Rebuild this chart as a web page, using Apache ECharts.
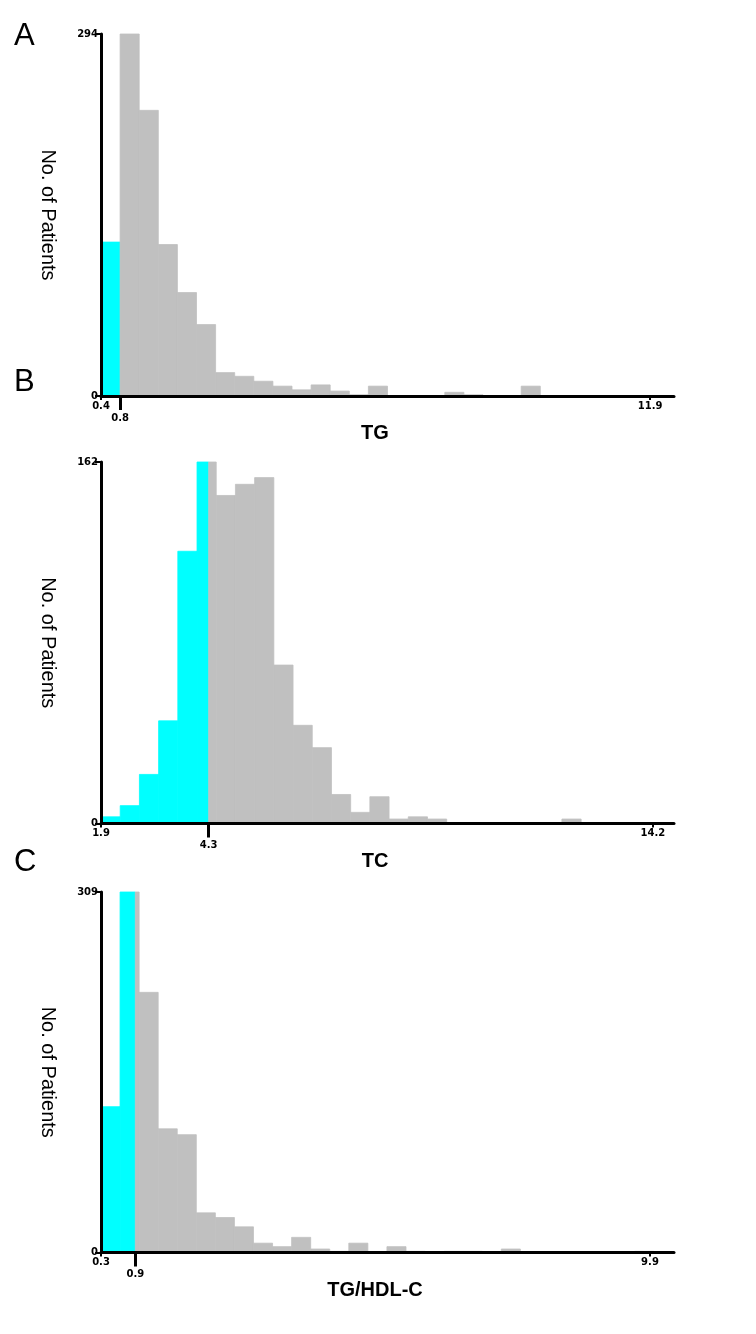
<!DOCTYPE html>
<html>
<head>
<meta charset="utf-8">
<script src="https://cdn.jsdelivr.net/npm/echarts@6/dist/echarts.min.js"></script>
<style>
html,body{margin:0;padding:0;background:#fff;}
#chart{width:756px;height:1334px;}
</style>
</head>
<body>
<div id="chart"></div>
<script>
// ---- Panel A: TG ----
const tgCounts = [125, 294, 232, 123, 84, 58, 19, 16, 12, 8, 5, 9, 4, 1, 8, 0, 0, 0, 3, 1, 0, 0, 8];
const tgBinStart = 0.4;
const tgBinWidth = 0.4;
const tgCutoff = 0.8;
const tgTickLabels = [0.4, 0.8, 11.9];
const tgYMax = 294;

// ---- Panel B: TC ----
const tcCounts = [3, 8, 22, 46, 122, 162, 147, 152, 155, 71, 44, 34, 13, 5, 12, 2, 3, 2, 0, 0, 0, 0, 0, 0, 2];
const tcBinStart = 1.9;
const tcBinWidth = 0.428;
const tcCutoff = 4.3;
const tcTickLabels = [1.9, 4.3, 14.2];
const tcYMax = 162;

// ---- Panel C: TG/HDL-C ----
const ratioCounts = [125, 309, 223, 106, 101, 34, 30, 22, 8, 5, 13, 3, 1, 8, 0, 5, 1, 0, 1, 1, 0, 3, 0, 0, 0, 0, 0, 0, 1];
const ratioBinStart = 0.3;
const ratioBinWidth = 1 / 3;
const ratioCutoff = 0.9;
const ratioTickLabels = [0.3, 0.9, 9.9];
const ratioYMax = 309;

const panels = [
  { counts: tgCounts, start: tgBinStart, width: tgBinWidth, cut: tgCutoff, ticks: tgTickLabels, ymax: tgYMax,
    name: 'TG', letter: 'A', xmin: 0.4, xmax: 12.4, top: 34, height: 362, letterTop: 21 },
  { counts: tcCounts, start: tcBinStart, width: tcBinWidth, cut: tcCutoff, ticks: tcTickLabels, ymax: tcYMax,
    name: 'TC', letter: 'B', xmin: 1.9, xmax: 14.67, top: 462, height: 361.5, letterTop: 367 },
  { counts: ratioCounts, start: ratioBinStart, width: ratioBinWidth, cut: ratioCutoff, ticks: ratioTickLabels, ymax: ratioYMax,
    name: 'TG/HDL-C', letter: 'C', xmin: 0.3, xmax: 10.32, top: 892, height: 360.5, letterTop: 847 }
];

const CYAN = '#00FFFF';
const GRAY = '#C0C0C0';
const LABEL_FONT = 'DejaVu Sans';

function splitBins(p) {
  const below = [], above = [];
  p.counts.forEach((c, i) => {
    if (!c) return;
    const x0 = p.start + i * p.width;
    const x1 = p.start + (i + 1) * p.width;
    if (x1 <= p.cut + 1e-9) below.push([x0, x1, c]);
    else if (x0 >= p.cut - 1e-9) above.push([x0, x1, c]);
    else { below.push([x0, p.cut, c]); above.push([p.cut, x1, c]); }
  });
  return { below, above };
}

function renderBin(params, api) {
  const x0 = api.value(0), x1 = api.value(1), c = api.value(2);
  const a = api.coord([x0, c]);
  const b = api.coord([x1, 0]);
  const col = api.visual('color');
  return {
    type: 'rect',
    shape: { x: a[0], y: a[1], width: b[0] - a[0], height: b[1] - a[1] },
    style: { fill: col, stroke: col, lineWidth: 0.8 }
  };
}

const grid = [], xAxis = [], yAxis = [], series = [], title = [];
panels.forEach((p, i) => {
  grid.push({ left: 101, width: 573, top: p.top, height: p.height, containLabel: false, outerBoundsMode: 'none' });
  title.push({ text: p.letter, left: 14, top: p.letterTop, padding: 0,
    textStyle: { fontSize: 31, fontWeight: 'normal', fontFamily: 'Liberation Sans', color: '#000' } });
  xAxis.push({
    gridIndex: i, type: 'value', min: p.xmin, max: p.xmax, position: 'bottom', z: 5,
    axisLine: { show: true, onZero: false, lineStyle: { color: '#000', width: 3 } },
    axisTick: { show: true, customValues: [p.ticks[0], p.ticks[2]], length: 4, lineStyle: { color: '#000', width: 2 } },
    axisLabel: {
      customValues: p.ticks, margin: 5, color: '#000', fontSize: 10, fontWeight: 'bold', fontFamily: LABEL_FONT,
      formatter: v => (Math.abs(v - p.cut) < 1e-9 ? '{low|' + v + '}' : '' + v),
      rich: { low: { padding: [12, 0, 0, 0], color: '#000', fontSize: 10, fontWeight: 'bold', fontFamily: LABEL_FONT } }
    },
    splitLine: { show: false },
    name: p.name, nameLocation: 'middle', nameGap: 26,
    nameTextStyle: { fontSize: 20, fontWeight: 'bold', fontFamily: 'Liberation Sans', color: '#000', padding: [0, 25, 0, 0] }
  });
  xAxis.push({
    gridIndex: i, type: 'value', min: p.xmin, max: p.xmax, position: 'bottom', z: 6,
    axisLine: { show: false },
    axisTick: { show: true, customValues: [p.cut], length: 14, lineStyle: { color: '#000', width: 3 } },
    axisLabel: { show: false },
    splitLine: { show: false }
  });
  yAxis.push({
    gridIndex: i, type: 'value', min: 0, max: p.ymax, z: 5,
    axisLine: { show: true, lineStyle: { color: '#000', width: 3 } },
    axisTick: { show: true, customValues: [0, p.ymax], length: 6, lineStyle: { color: '#000', width: 2 } },
    axisLabel: { customValues: [0, p.ymax], margin: 3, color: '#000', fontSize: 10, fontWeight: 'bold', fontFamily: LABEL_FONT },
    splitLine: { show: false },
    name: 'No. of Patients', nameLocation: 'middle', nameRotate: -90, nameGap: 43,
    nameTextStyle: { fontSize: 20, fontFamily: 'Liberation Sans', color: '#000' }
  });
  const d = splitBins(p);
  series.push({ type: 'custom', name: p.name + ' low', xAxisIndex: 2 * i, yAxisIndex: i, z: 2,
    renderItem: renderBin, encode: { x: [0, 1], y: 2 }, itemStyle: { color: CYAN }, data: d.below });
  series.push({ type: 'custom', name: p.name + ' high', xAxisIndex: 2 * i, yAxisIndex: i, z: 2,
    renderItem: renderBin, encode: { x: [0, 1], y: 2 }, itemStyle: { color: GRAY }, data: d.above });
});

const chart = echarts.init(document.getElementById('chart'), null, { renderer: 'canvas' });
chart.setOption({ animation: false, backgroundColor: '#fff', title, grid, xAxis, yAxis, series });
</script>
</body>
</html>
